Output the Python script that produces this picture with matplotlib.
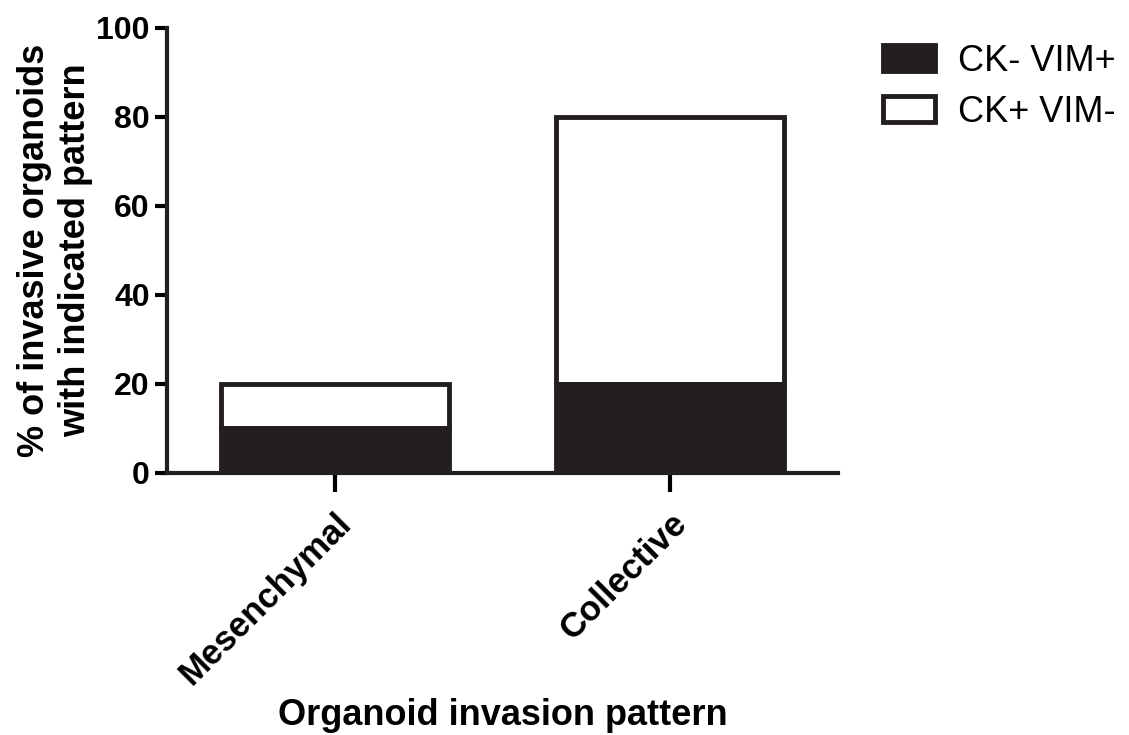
import matplotlib
matplotlib.use("Agg")
import matplotlib.pyplot as plt

categories = ["Mesenchymal", "Collective"]
ck_neg_vim_pos = [10, 20]
ck_pos_vim_neg = [10, 60]

plt.rcParams["font.family"] = ["Liberation Sans", "DejaVu Sans"]

fig = plt.figure(figsize=(11.29, 7.35), dpi=100)
ax = fig.add_axes([0.148, 0.3565, 0.594, 0.6055])

x = list(range(len(categories)))
w = 0.68
ax.bar(x, ck_neg_vim_pos, width=w, color="#231f20", edgecolor="#231f20",
       linewidth=3.5, label="CK- VIM+", zorder=3)
ax.bar(x, ck_pos_vim_neg, width=w, bottom=ck_neg_vim_pos, color="white",
       edgecolor="#231f20", linewidth=3.5, label="CK+ VIM-", zorder=2)

ax.set_xlim(-0.5, 1.5)
ax.set_ylim(0, 100)
ax.set_yticks([0, 20, 40, 60, 80, 100])
ax.set_xticks(x)
ax.set_xticklabels(categories, rotation=45, ha="right", rotation_mode="anchor",
                   fontsize=25, fontweight="bold")
for t in ax.get_yticklabels():
    t.set_fontweight("bold")
ax.tick_params(axis="y", labelsize=23, width=3, length=9, direction="out")
ax.tick_params(axis="x", width=3, length=14, direction="out", pad=10)

for s in ["top", "right"]:
    ax.spines[s].set_visible(False)
for s in ["left", "bottom"]:
    ax.spines[s].set_linewidth(3)
    ax.spines[s].set_color("#231f20")

ax.set_ylabel("% of invasive organoids\nwith indicated pattern", fontsize=26,
              fontweight="bold", labelpad=2, linespacing=1.25)
ax.set_xlabel("Organoid invasion pattern", fontsize=26, fontweight="bold")
ax.xaxis.set_label_coords(0.5, -0.505)

ax.legend(loc="upper left", bbox_to_anchor=(1.067, 0.965), frameon=False,
          fontsize=26, handlelength=1.45, handleheight=0.75, labelspacing=0.45,
          handletextpad=0.65, borderpad=0, borderaxespad=0)

fig.savefig("out.png", dpi=100)
